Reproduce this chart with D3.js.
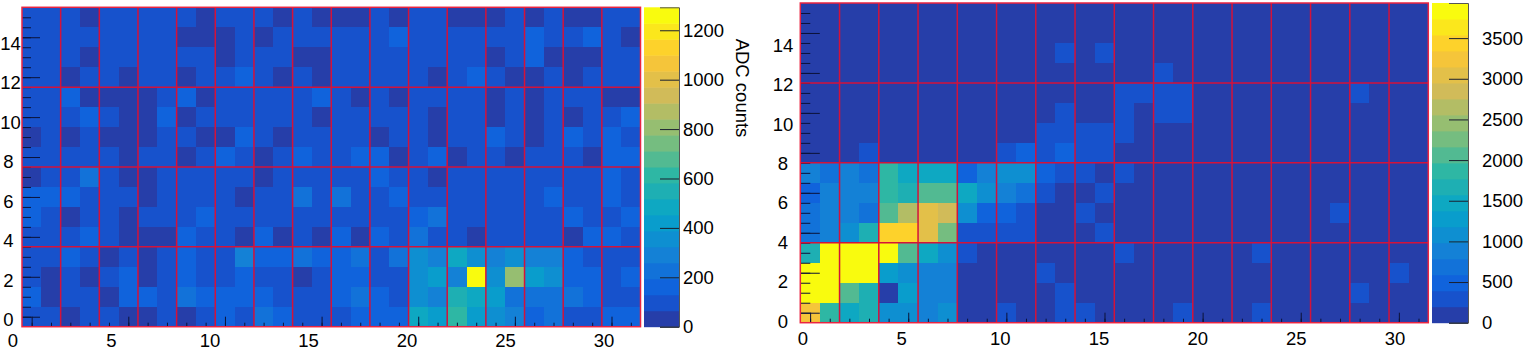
<!DOCTYPE html>
<html>
<head>
<meta charset="utf-8">
<style>
  html, body { margin: 0; padding: 0; background: #fff; }
  svg { display: block; }
  text { font-family: "Liberation Sans", Arial, sans-serif; font-size: 18.5px; fill: #000; }
</style>
</head>
<body>
<svg id="chart" width="1527" height="352"></svg>
<script src="https://cdn.jsdelivr.net/npm/d3@7"></script>
<script>
// kBird palette stops
let birdStops = [0, 0.125, 0.25, 0.375, 0.5, 0.625, 0.75, 0.875, 1]
let birdColors = ['#352a87', '#0f5cdd', '#1481d6', '#06a4ca', '#2eb7a4', '#87bf77', '#d1bb59', '#fec832', '#f9fb0e']
let levels = d3.range(20)

let xTicks = [0, 5, 10, 15, 20, 25, 30]
let yTicks = [0, 2, 4, 6, 8, 10, 12, 14]
let leftColorTicks = [0, 200, 400, 600, 800, 1000, 1200]
let rightColorTicks = [0, 500, 1000, 1500, 2000, 2500, 3000, 3500]
let leftMax = 1293
let rightMax = 3932

// ADC counts, first row is channel y = 15, last row is y = 0
let leftCounts = [
  [97, 97, 97, 32, 97, 97, 97, 97, 97, 32, 97, 97, 97, 32, 97, 32, 32, 32, 97, 32, 97, 97, 32, 32, 32, 97, 32, 97, 32, 32, 97, 97],
  [97, 97, 97, 97, 97, 97, 97, 97, 32, 32, 32, 97, 32, 97, 97, 97, 97, 97, 97, 162, 97, 97, 97, 97, 97, 97, 162, 97, 97, 162, 97, 32],
  [97, 97, 97, 32, 97, 97, 97, 97, 97, 97, 32, 97, 97, 97, 32, 32, 97, 97, 97, 97, 97, 97, 97, 97, 32, 97, 162, 32, 32, 32, 97, 97],
  [97, 97, 32, 97, 97, 32, 97, 97, 32, 97, 97, 162, 97, 32, 97, 32, 97, 97, 97, 97, 97, 32, 97, 162, 97, 32, 32, 97, 32, 97, 97, 97],
  [97, 97, 162, 32, 32, 32, 32, 97, 162, 32, 97, 97, 97, 97, 97, 162, 97, 32, 97, 32, 97, 97, 97, 97, 32, 97, 32, 97, 97, 97, 32, 32],
  [97, 97, 97, 162, 97, 32, 32, 162, 32, 97, 97, 97, 97, 97, 97, 32, 97, 97, 97, 97, 97, 32, 97, 97, 32, 97, 32, 97, 32, 97, 97, 162],
  [32, 97, 32, 97, 32, 32, 32, 97, 97, 32, 32, 162, 97, 32, 97, 97, 97, 97, 32, 97, 97, 32, 97, 97, 162, 97, 32, 97, 162, 97, 162, 97],
  [97, 97, 97, 97, 97, 32, 97, 97, 32, 97, 162, 97, 32, 97, 162, 97, 97, 162, 162, 32, 97, 162, 32, 97, 97, 32, 97, 97, 97, 32, 162, 162],
  [32, 97, 97, 226, 97, 32, 32, 97, 97, 97, 97, 97, 32, 97, 97, 97, 97, 97, 162, 97, 97, 32, 97, 97, 97, 97, 97, 97, 97, 97, 162, 97],
  [162, 162, 162, 97, 97, 97, 32, 97, 97, 97, 97, 32, 97, 97, 226, 97, 226, 97, 97, 162, 97, 97, 97, 97, 97, 97, 97, 162, 97, 97, 162, 97],
  [162, 97, 32, 97, 97, 32, 97, 97, 97, 162, 97, 97, 97, 97, 97, 97, 97, 97, 97, 97, 162, 226, 97, 97, 97, 97, 97, 97, 162, 97, 97, 162],
  [97, 97, 97, 162, 97, 32, 32, 32, 162, 97, 97, 32, 162, 32, 97, 32, 162, 32, 162, 97, 226, 97, 97, 32, 97, 97, 97, 97, 32, 162, 162, 97],
  [97, 97, 162, 97, 32, 97, 32, 97, 162, 97, 97, 291, 162, 162, 226, 162, 162, 226, 97, 226, 356, 291, 485, 356, 291, 356, 291, 291, 162, 97, 97, 97],
  [97, 32, 97, 32, 97, 162, 32, 97, 162, 97, 97, 162, 97, 97, 32, 97, 162, 162, 97, 97, 356, 420, 291, 1260, 356, 808, 420, 356, 162, 162, 97, 162],
  [162, 32, 97, 97, 32, 162, 162, 97, 226, 162, 162, 162, 162, 97, 97, 97, 162, 226, 162, 97, 356, 291, 550, 485, 420, 226, 226, 226, 226, 162, 97, 97],
  [97, 97, 32, 97, 97, 32, 32, 97, 32, 97, 162, 97, 226, 162, 97, 97, 97, 162, 162, 162, 485, 420, 614, 420, 356, 291, 162, 226, 97, 97, 162, 162]
]

let rightCounts = [
  [0, 0, 0, 0, 0, 0, 0, 0, 0, 0, 0, 0, 0, 0, 0, 0, 0, 0, 0, 0, 0, 0, 0, 0, 0, 0, 0, 0, 0, 0, 0, 0],
  [0, 0, 0, 0, 0, 0, 0, 0, 0, 0, 0, 0, 0, 0, 0, 0, 0, 0, 0, 0, 0, 0, 0, 0, 0, 0, 0, 0, 0, 0, 0, 0],
  [0, 0, 0, 0, 0, 0, 0, 0, 0, 0, 0, 0, 0, 295, 0, 295, 0, 0, 0, 0, 0, 0, 0, 0, 0, 0, 0, 0, 0, 0, 0, 0],
  [0, 0, 0, 0, 0, 0, 0, 0, 0, 0, 0, 0, 0, 0, 0, 0, 0, 0, 295, 0, 0, 0, 0, 0, 0, 0, 0, 0, 0, 0, 0, 0],
  [0, 0, 0, 0, 0, 0, 0, 0, 0, 0, 0, 0, 0, 0, 0, 0, 295, 295, 295, 295, 0, 0, 0, 0, 0, 0, 0, 0, 295, 0, 0, 0],
  [0, 0, 0, 0, 0, 0, 0, 0, 0, 0, 0, 0, 0, 295, 0, 0, 295, 0, 295, 295, 0, 0, 0, 0, 0, 0, 0, 0, 0, 0, 0, 0],
  [0, 0, 0, 0, 0, 0, 0, 0, 0, 0, 0, 0, 295, 295, 295, 295, 295, 0, 0, 0, 0, 0, 0, 0, 0, 0, 0, 0, 0, 0, 0, 0],
  [0, 0, 0, 295, 0, 0, 0, 0, 0, 0, 295, 491, 295, 491, 295, 295, 0, 0, 0, 0, 0, 0, 0, 0, 0, 0, 0, 0, 0, 0, 0, 0],
  [885, 688, 885, 688, 1868, 1475, 1475, 1475, 491, 885, 1081, 1081, 491, 295, 295, 0, 295, 0, 0, 0, 0, 0, 0, 0, 0, 0, 0, 0, 0, 0, 0, 0],
  [491, 885, 885, 885, 1868, 1671, 2064, 2064, 1475, 1081, 885, 688, 295, 0, 0, 295, 0, 0, 0, 0, 0, 0, 0, 0, 0, 0, 0, 0, 0, 0, 0, 0],
  [688, 885, 885, 688, 2064, 2654, 3047, 2851, 1081, 491, 491, 295, 0, 0, 295, 0, 0, 0, 0, 0, 0, 0, 0, 0, 0, 0, 0, 295, 0, 0, 0, 0],
  [688, 885, 1081, 1671, 3441, 3441, 3047, 2261, 295, 295, 295, 295, 0, 0, 0, 295, 0, 0, 0, 0, 0, 0, 0, 0, 0, 0, 0, 0, 0, 0, 0, 0],
  [1671, 3834, 3834, 3834, 3834, 2064, 1475, 1081, 295, 0, 0, 0, 0, 0, 0, 0, 295, 0, 0, 0, 0, 0, 0, 295, 0, 0, 0, 0, 0, 0, 0, 0],
  [3834, 3834, 3834, 3834, 1278, 1081, 885, 885, 0, 0, 0, 0, 295, 0, 0, 0, 0, 0, 0, 0, 0, 0, 0, 0, 0, 0, 0, 0, 0, 0, 295, 0],
  [3834, 3834, 2064, 1671, 0, 1278, 885, 885, 0, 0, 0, 0, 0, 295, 0, 0, 0, 0, 0, 0, 0, 0, 0, 0, 0, 0, 0, 0, 295, 0, 0, 0],
  [3244, 1868, 1475, 1671, 1081, 1081, 885, 1081, 0, 0, 295, 0, 0, 295, 295, 0, 0, 0, 0, 295, 0, 0, 0, 295, 0, 0, 0, 0, 0, 0, 0, 0]
]

let svg = d3.select('#chart')

let bird = d3.scaleLinear().domain(birdStops).range(birdColors)

function drawMap(rows, cfg) {
  let holder = svg.append('g')

  let xPos = d3.scaleLinear().domain([-0.5, 31.5]).range([cfg.left, cfg.right])
  let yPos = d3.scaleLinear().domain([-0.5, 15.5]).range([cfg.bottom, cfg.top])

  // the tick labels drift a little from their ticks in the original
  let xLabel = d3.scaleLinear().domain([0, 30]).range(cfg.xLabelRange)
  let yLabel = d3.scaleLinear().domain([0, 14]).range(cfg.yLabelRange)

  let colorScale = d3
    .scaleQuantize()
    .domain([0, cfg.max])
    .range(levels.map(d => bird((d + 1) / levels.length)))

  let cells = []
  rows.forEach((row, i) => {
    row.forEach((value, j) => {
      cells.push({ col: j, row: 15 - i, value: value })
    })
  })

  holder
    .selectAll('.cell')
    .data(cells)
    .enter()
    .append('rect')
    .attr('class', 'cell')
    .attr('x', d => xPos(d.col - 0.5))
    .attr('y', d => yPos(d.row + 0.5))
    .attr('width', xPos(1) - xPos(0))
    .attr('height', yPos(0) - yPos(1))
    .attr('fill', d => colorScale(d.value))
    .attr('shape-rendering', 'crispEdges')

  // ticks point into the plot
  let xMajor = d3.axisBottom(xPos).tickValues(xTicks).tickSize(-10).tickFormat('')
  let xMinor = d3.axisBottom(xPos).tickValues(d3.range(0, 32)).tickSize(-4).tickFormat('')
  let yMajor = d3.axisLeft(yPos).tickValues(yTicks).tickSize(-cfg.yMajorLength).tickFormat('')
  let yMinor = d3.axisLeft(yPos).tickValues(d3.range(0, 15.5, 0.5)).tickSize(-cfg.yMinorLength).tickFormat('')

  let axes = [
    { axis: xMajor, transform: `translate(0,${cfg.bottom})` },
    { axis: xMinor, transform: `translate(0,${cfg.bottom})` },
    { axis: yMajor, transform: `translate(${cfg.left},0)` },
    { axis: yMinor, transform: `translate(${cfg.left},0)` }
  ]
  axes.forEach(d => {
    let g = holder.append('g').attr('transform', d.transform).call(d.axis)
    g.select('.domain').remove()
    g.selectAll('line').attr('stroke', '#0c1238')
  })

  // red chip outlines, every 2 columns and 4 rows
  holder
    .selectAll('.chip-v')
    .data(d3.range(1.5, 31, 2))
    .enter()
    .append('line')
    .attr('class', 'chip-v')
    .attr('x1', d => xPos(d))
    .attr('x2', d => xPos(d))
    .attr('y1', cfg.top)
    .attr('y2', cfg.bottom)
    .attr('stroke', '#d4123a')
    .attr('stroke-width', 1.5)

  holder
    .selectAll('.chip-h')
    .data(d3.range(3.5, 15, 4))
    .enter()
    .append('line')
    .attr('class', 'chip-h')
    .attr('x1', cfg.left)
    .attr('x2', cfg.right)
    .attr('y1', d => yPos(d))
    .attr('y2', d => yPos(d))
    .attr('stroke', '#d4123a')
    .attr('stroke-width', 1.5)

  holder
    .append('rect')
    .attr('x', cfg.left)
    .attr('y', cfg.top)
    .attr('width', cfg.right - cfg.left)
    .attr('height', cfg.bottom - cfg.top)
    .attr('fill', 'none')
    .attr('stroke', '#ea2440')
    .attr('stroke-width', 1.5)

  holder
    .selectAll('.x-label')
    .data(xTicks)
    .enter()
    .append('text')
    .attr('x', d => xLabel(d))
    .attr('y', cfg.xLabelY)
    .attr('text-anchor', 'middle')
    .text(d => d)

  // two digit labels nudged right so they stay on the page
  holder
    .selectAll('.y-label')
    .data(yTicks)
    .enter()
    .append('text')
    .attr('x', d => (d >= 10 ? cfg.yLabelX + cfg.yLabelNudge : cfg.yLabelX))
    .attr('y', d => yLabel(d))
    .attr('dy', '0.36em')
    .attr('text-anchor', 'middle')
    .text(d => d)

  // color palette
  let paletteScale = d3.scaleLinear().domain([0, cfg.max]).range([cfg.bottom, cfg.top])
  let bandHeight = (cfg.bottom - cfg.top) / levels.length

  holder
    .selectAll('.palette')
    .data(levels)
    .enter()
    .append('rect')
    .attr('x', cfg.paletteLeft)
    .attr('y', d => paletteScale(((d + 1) * cfg.max) / levels.length))
    .attr('width', cfg.paletteRight - cfg.paletteLeft)
    .attr('height', bandHeight + 0.5)
    .attr('fill', d => bird((d + 1) / levels.length))

  let paletteAxis = d3
    .axisRight(paletteScale)
    .tickValues(cfg.colorTicks)
    .tickSize(-19)
    .tickPadding(4)
    .tickFormat(d3.format('d'))

  let paletteGroup = holder
    .append('g')
    .attr('transform', `translate(${cfg.paletteRight},0)`)
    .call(paletteAxis)

  paletteGroup.attr('font-size', null).attr('font-family', null)
  paletteGroup.select('.domain').attr('stroke', '#555')
  paletteGroup.selectAll('line').attr('stroke', '#1a2030')
  paletteGroup.selectAll('text').attr('x', cfg.paletteLabelGap)
}

drawMap(leftCounts, {
  left: 22,
  right: 640.5,
  top: 7.3,
  bottom: 326.7,
  max: leftMax,
  colorTicks: leftColorTicks,
  yMajorLength: 18,
  yMinorLength: 9,
  xLabelRange: [13, 604],
  xLabelY: 347,
  yLabelRange: [319.5, 43],
  yLabelX: 8.5,
  yLabelNudge: 2,
  paletteLeft: 644,
  paletteRight: 679,
  paletteLabelGap: 4
})

drawMap(rightCounts, {
  left: 800.3,
  right: 1428.3,
  top: 3,
  bottom: 322.7,
  max: rightMax,
  colorTicks: rightColorTicks,
  yMajorLength: 19.5,
  yMinorLength: 10,
  xLabelRange: [803, 1395],
  xLabelY: 345,
  yLabelRange: [321, 45],
  yLabelX: 783,
  yLabelNudge: 0,
  paletteLeft: 1432,
  paletteRight: 1468,
  paletteLabelGap: 14
})

svg
  .append('text')
  .attr('transform', 'translate(735.5,88) rotate(90)')
  .attr('text-anchor', 'middle')
  .text('ADC counts')
</script>
</body>
</html>
